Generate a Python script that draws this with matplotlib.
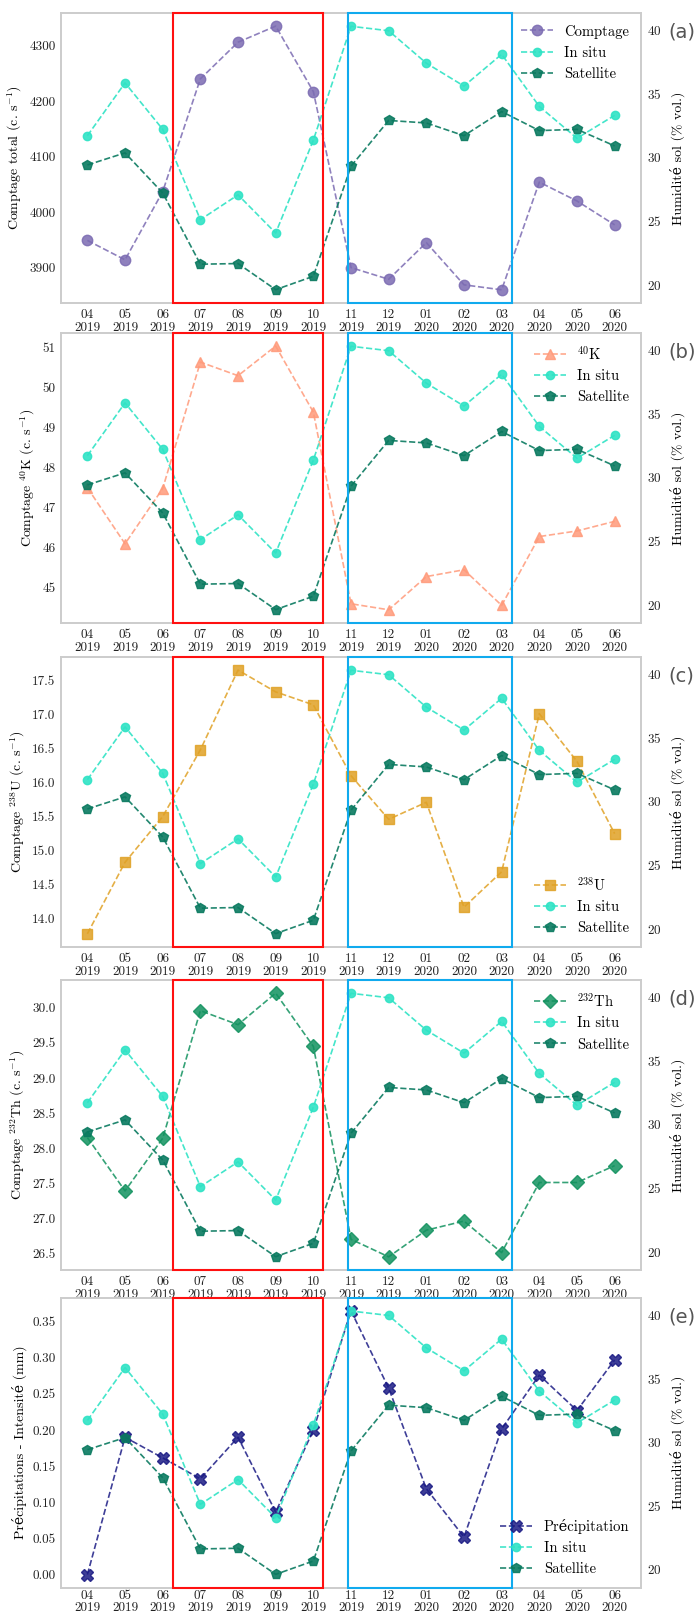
import numpy as np
import matplotlib
matplotlib.use('Agg')
import matplotlib.pyplot as plt
from matplotlib.patches import Rectangle
import matplotlib.transforms as mtransforms

plt.rcParams['font.family'] = ['cmr10', 'DejaVu Serif']
plt.rcParams['mathtext.fontset'] = 'cm'
plt.rcParams['axes.formatter.use_mathtext'] = True

#%% donnees
mois = ['04\n2019', '05\n2019', '06\n2019', '07\n2019', '08\n2019', '09\n2019', '10\n2019',
        '11\n2019', '12\n2019', '01\n2020', '02\n2020', '03\n2020', '04\n2020', '05\n2020', '06\n2020']

in_situ = [31.7, 35.85, 32.2, 25.1, 27.05, 24.05, 31.35, 40.3, 39.95, 37.4, 35.6, 38.1, 34.0, 31.5, 33.3]
satellite = [29.4, 30.35, 27.2, 21.6, 21.65, 19.6, 20.65, 29.3, 32.9, 32.7, 31.7, 33.6, 32.1, 32.2, 30.9]

comptage = [3949, 3914, 4037, 4240, 4306, 4335, 4217, 3900, 3879, 3945, 3869, 3860, 4054, 4020, 3977]
k40 = [47.5, 46.1, 47.48, 50.64, 50.3, 51.04, 49.39, 44.6, 44.45, 45.28, 45.45, 44.56, 46.28, 46.42, 46.66]
u238 = [13.78, 14.83, 15.5, 16.48, 17.65, 17.33, 17.14, 16.1, 15.46, 15.71, 14.17, 14.69, 17.01, 16.31, 15.25]
th232 = [28.15, 27.39, 28.14, 29.96, 29.76, 30.21, 29.45, 26.7, 26.45, 26.83, 26.96, 26.51, 27.51, 27.51, 27.75]
precip = [0.0, 0.19, 0.1615, 0.1325, 0.19, 0.0865, 0.2, 0.365, 0.258, 0.1187, 0.052, 0.2015, 0.276, 0.227, 0.297]

x = np.arange(len(mois))

panneaux = [
    dict(y=comptage, lab='Comptage', ylab=r'Comptage total (c. s$^{-1}$)', c='#7b6bb2', m='o', ms=7.5,
         ticks=np.arange(3900, 4301, 100), fmt='%d', loc='upper right', tag='(a)'),
    dict(y=k40, lab=r'$^{40}$K', ylab=r'Comptage $^{40}$K (c. s$^{-1}$)', c='#ff9a7a', m='^', ms=7,
         ticks=np.arange(45, 52, 1), fmt='%d', loc='upper right', tag='(b)'),
    dict(y=u238, lab=r'$^{238}$U', ylab=r'Comptage $^{238}$U (c. s$^{-1}$)', c='#e0a125', m='s', ms=7,
         ticks=np.arange(14.0, 17.51, 0.5), fmt='%.1f', loc='lower right', tag='(c)'),
    dict(y=th232, lab=r'$^{232}$Th', ylab=r'Comptage $^{232}$Th (c. s$^{-1}$)', c='#12925f', m='D', ms=7,
         ticks=np.arange(26.5, 30.01, 0.5), fmt='%.1f', loc='upper right', tag='(d)'),
    dict(y=precip, lab='Précipitation', ylab='Précipitations - Intensité (mm)', c='#1c1c85', m='X', ms=8,
         ticks=np.arange(0.0, 0.351, 0.05), fmt='%.2f', loc='lower right', tag='(e)'),
]

c_insitu = '#2fe3c5'
c_sat = '#0a7a60'

fig = plt.figure(figsize=(6.95, 16.16), dpi=100)
bas = [0.8125, 0.6145, 0.414, 0.2141, 0.0175]

for i, (p, b) in enumerate(zip(panneaux, bas)):
    ax = fig.add_axes([0.0878, b, 0.8345, 0.1795])
    ax2 = ax.twinx()
    l1, = ax.plot(x, p['y'], ls='--', marker=p['m'], color=p['c'], ms=p['ms'], lw=1.2, alpha=0.85,
                  label=p['lab'])
    l2, = ax2.plot(x, in_situ, ls='--', marker='o', color=c_insitu, ms=6, lw=1.2, alpha=0.9, label='In situ')
    l3, = ax2.plot(x, satellite, ls='--', marker='p', color=c_sat, ms=7, lw=1.2, alpha=0.9, label='Satellite')
    ax2.set_ylim(18.55, 41.35)
    ax2.set_yticks([20, 25, 30, 35, 40])
    ax.set_yticks(p['ticks'])
    ax.set_yticklabels([p['fmt'] % t for t in p['ticks']])
    ax.set_xticks(x)
    ax.set_xticklabels(mois, linespacing=0.95 if i == 4 else 1.1)
    ax.set_xlim(-0.7, 14.7)
    for a in (ax, ax2):
        a.tick_params(length=0, labelsize=9.5, colors='#222222', pad=4)
        for s in a.spines.values():
            s.set_color('#cccccc')
            s.set_linewidth(1.2)
    if i == 4:
        ax.tick_params(axis='x', pad=1.5)
    ax.set_ylabel(p['ylab'], fontsize=10)
    ax2.set_ylabel('Humidité sol (% vol.)', fontsize=10, labelpad=6)
    # periodes seche / humide
    trans = mtransforms.blended_transform_factory(ax.transData, ax.transAxes)
    ax2.add_patch(Rectangle((2.28, 0), 6.26 - 2.28, 1, transform=trans, fill=False,
                            ec='#ff1010', lw=1.5, clip_on=False, zorder=5))
    ax2.add_patch(Rectangle((6.92, 0), 11.27 - 6.92, 1, transform=trans, fill=False,
                            ec='#10aaee', lw=1.5, clip_on=False, zorder=5))
    ax2.legend(handles=[l1, l2, l3], loc=p['loc'], frameon=False, fontsize=10.5,
               handlelength=2.2, borderaxespad=0.4)
    fig.text(0.962, b + 0.1795 - 0.012, p['tag'], fontsize=14, color='#555555',
             family='DejaVu Sans', va='center')

plt.savefig('out.png', dpi=100)
